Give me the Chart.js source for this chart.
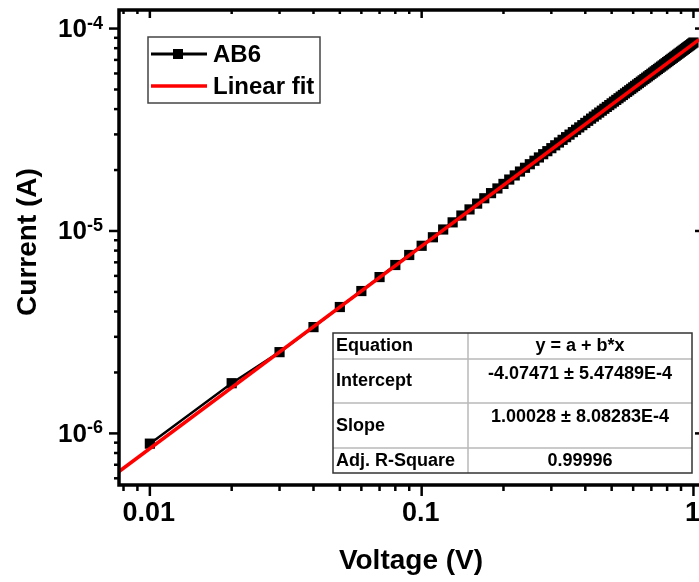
<!DOCTYPE html>
<html>
<head>
<meta charset="utf-8">
<script src="https://cdn.jsdelivr.net/npm/chart.js@4.4.1/dist/chart.umd.min.js"></script>
<style>
  html, body { margin: 0; padding: 0; background: #fff; }
  #chart { display: block; }
</style>
</head>
<body>
<canvas id="chart" width="699" height="582"></canvas>
<script>
// measured I-V of AB6 (V in volts, I in microamps)
const voltage = [
  0.01, 0.02, 0.03, 0.04, 0.05, 0.06, 0.07, 0.08, 0.09, 0.10,
  0.11, 0.12, 0.13, 0.14, 0.15, 0.16, 0.17, 0.18, 0.19, 0.20,
  0.21, 0.22, 0.23, 0.24, 0.25, 0.26, 0.27, 0.28, 0.29, 0.30,
  0.31, 0.32, 0.33, 0.34, 0.35, 0.36, 0.37, 0.38, 0.39, 0.40,
  0.41, 0.42, 0.43, 0.44, 0.45, 0.46, 0.47, 0.48, 0.49, 0.50,
  0.51, 0.52, 0.53, 0.54, 0.55, 0.56, 0.57, 0.58, 0.59, 0.60,
  0.61, 0.62, 0.63, 0.64, 0.65, 0.66, 0.67, 0.68, 0.69, 0.70,
  0.71, 0.72, 0.73, 0.74, 0.75, 0.76, 0.77, 0.78, 0.79, 0.80,
  0.81, 0.82, 0.83, 0.84, 0.85, 0.86, 0.87, 0.88, 0.89, 0.90,
  0.91, 0.92, 0.93, 0.94, 0.95, 0.96, 0.97, 0.98, 0.99, 1.00
];
const currentUA = [
  0.89, 1.77, 2.52, 3.35, 4.21, 5.05, 5.92, 6.79, 7.61, 8.45,
  9.31, 10.17, 11.03, 11.92, 12.78, 13.65, 14.51, 15.38, 16.22, 17.08,
  17.95, 18.81, 19.66, 20.52, 21.37, 22.23, 23.08, 23.95, 24.79, 25.65,
  26.5, 27.36, 28.2, 29.07, 29.92, 30.78, 31.62, 32.48, 33.33, 34.18,
  35.03, 35.9, 36.74, 37.6, 38.45, 39.3, 40.16, 41.0, 41.86, 42.71,
  43.56, 44.42, 45.26, 46.12, 46.97, 47.83, 48.67, 49.53, 50.38, 51.23,
  52.08, 52.94, 53.79, 54.64, 55.5, 56.35, 57.2, 58.05, 58.9, 59.76,
  60.6, 61.46, 62.31, 63.16, 64.02, 64.87, 65.72, 66.57, 67.42, 68.27,
  69.12, 69.98, 70.83, 71.68, 72.53, 73.39, 74.24, 75.09, 75.94, 76.8,
  77.64, 78.5, 79.35, 80.2, 81.05, 81.9, 82.76, 83.6, 84.46, 85.3
];

// linear fit line end points (log-log)
const fitVoltage = [0.0077, 1.048];
const fitCurrent = [6.48e-7, 8.82e-5];

// axis ticks
const xMajor = [0.01, 0.1, 1];
const xMajorLabels = ['0.01', '0.1', '1'];
const xMinor = [0.008, 0.009, 0.02, 0.03, 0.04, 0.05, 0.06, 0.07, 0.08, 0.09,
                0.2, 0.3, 0.4, 0.5, 0.6, 0.7, 0.8, 0.9];
const yMajor = [1e-6, 1e-5, 1e-4];
const yMajorExp = ['-6', '-5', '-4'];
const yMinor = [6e-7, 7e-7, 8e-7, 9e-7, 2e-6, 3e-6, 4e-6, 5e-6, 6e-6, 7e-6, 8e-6, 9e-6,
                2e-5, 3e-5, 4e-5, 5e-5, 6e-5, 7e-5, 8e-5, 9e-5];

// fit summary table
const tableRows = [
  ['Equation', 'y = a + b*x'],
  ['Intercept', '-4.07471 \u00B1 5.47489E-4'],
  ['Slope', '1.00028 \u00B1 8.08283E-4'],
  ['Adj. R-Square', '0.99996']
];

const FONT = '"Liberation Sans", Arial, sans-serif';

const frame = {
  id: 'frame',
  afterDatasetsDraw(c) {
    const ctx = c.ctx;
    const { left, right, top, bottom } = c.chartArea;
    const xs = c.scales.x, ys = c.scales.y;
    ctx.save();
    ctx.strokeStyle = '#000';
    ctx.fillStyle = '#000';

    // frame lines (right side is off the picture)
    ctx.lineWidth = 3.5;
    ctx.beginPath();
    ctx.moveTo(right + 2, top);
    ctx.lineTo(left, top);
    ctx.lineTo(left, bottom);
    ctx.lineTo(right + 2, bottom);
    ctx.stroke();

    ctx.lineWidth = 2.5;
    const tick = (x1, y1, x2, y2) => {
      ctx.beginPath(); ctx.moveTo(x1, y1); ctx.lineTo(x2, y2); ctx.stroke();
    };
    xMajor.forEach(v => {
      const x = xs.getPixelForValue(v);
      tick(x, bottom, x, bottom + 11);
      tick(x, top, x, top + 8);
    });
    xMinor.forEach(v => {
      const x = xs.getPixelForValue(v);
      tick(x, bottom, x, bottom + 6);
      tick(x, top, x, top + 4);
    });
    yMajor.forEach(v => {
      const y = ys.getPixelForValue(v);
      tick(left, y, left - 10, y);
      tick(right, y, right - 4, y);
    });
    yMinor.forEach(v => {
      const y = ys.getPixelForValue(v);
      tick(left, y, left - 5, y);
    });

    // tick labels
    ctx.font = 'bold 27px ' + FONT;
    ctx.textAlign = 'center';
    ctx.textBaseline = 'middle';
    xMajor.forEach((v, i) => {
      ctx.fillText(xMajorLabels[i], xs.getPixelForValue(v) - 1, bottom + 29);
    });
    yMajor.forEach((v, i) => {
      const y = ys.getPixelForValue(v);
      const endX = left - 16;
      ctx.font = 'bold 18px ' + FONT;
      const supW = ctx.measureText(yMajorExp[i]).width;
      ctx.textAlign = 'left';
      ctx.fillText(yMajorExp[i], endX - supW, y - 5);
      ctx.font = 'bold 26px ' + FONT;
      ctx.textAlign = 'right';
      ctx.fillText('10', endX - supW, y + 1);
    });

    // axis titles
    ctx.font = 'bold 28px ' + FONT;
    ctx.textAlign = 'center';
    ctx.fillText('Voltage (V)', 411, 561);
    ctx.save();
    ctx.translate(28, 242);
    ctx.rotate(-Math.PI / 2);
    ctx.fillText('Current (A)', 0, 0);
    ctx.restore();

    // legend
    ctx.lineWidth = 1.5;
    ctx.strokeStyle = '#444';
    ctx.fillStyle = '#fff';
    ctx.fillRect(148, 37, 172, 66);
    ctx.strokeRect(148, 37, 172, 66);
    ctx.strokeStyle = '#000';
    ctx.lineWidth = 3;
    tick(151, 54, 207, 54);
    ctx.fillStyle = '#000';
    ctx.fillRect(173, 49, 10, 10);
    ctx.strokeStyle = '#ff0000';
    ctx.lineWidth = 3.5;
    tick(151, 86, 207, 86);
    ctx.fillStyle = '#000';
    ctx.font = 'bold 24px ' + FONT;
    ctx.textAlign = 'left';
    ctx.fillText('AB6', 213, 55);
    ctx.fillText('Linear fit', 213, 87);

    // fit table
    const tx0 = 333, tx1 = 468, tx2 = 692;
    const rowY = [333, 359, 403, 448, 473];
    ctx.fillStyle = '#fff';
    ctx.fillRect(tx0, rowY[0], tx2 - tx0, rowY[4] - rowY[0]);
    ctx.strokeStyle = '#b8b8b8';
    ctx.lineWidth = 1.5;
    for (let r = 1; r < 4; r++) tick(tx0, rowY[r], tx2, rowY[r]);
    tick(tx1, rowY[0], tx1, rowY[4]);
    ctx.strokeStyle = '#333';
    ctx.lineWidth = 1.5;
    ctx.strokeRect(tx0, rowY[0], tx2 - tx0, rowY[4] - rowY[0]);
    ctx.fillStyle = '#000';
    ctx.font = 'bold 18px ' + FONT;
    const labelY = [346, 381, 426, 461];
    const valueY = [346, 374, 417, 461];
    tableRows.forEach((row, r) => {
      ctx.textAlign = 'left';
      ctx.fillText(row[0], tx0 + 3, labelY[r]);
      ctx.textAlign = 'center';
      ctx.fillText(row[1], (tx1 + tx2) / 2, valueY[r]);
    });
    ctx.restore();
  }
};

new Chart(document.getElementById('chart'), {
  type: 'scatter',
  data: {
    datasets: [
      {
        label: 'Linear fit',
        data: fitVoltage.map((v, i) => ({ x: v, y: fitCurrent[i] })),
        showLine: true,
        borderColor: '#ff0000',
        borderWidth: 3.5,
        pointRadius: 0,
        order: 0
      },
      {
        label: 'AB6',
        data: voltage.map((v, i) => ({ x: v, y: currentUA[i] * 1e-6 })),
        showLine: true,
        borderColor: '#000',
        backgroundColor: '#000',
        borderWidth: 2.5,
        pointStyle: 'rect',
        pointRadius: 7.2,
        pointBorderWidth: 0,
        order: 1
      }
    ]
  },
  options: {
    responsive: false,
    animation: false,
    devicePixelRatio: 1,
    layout: { autoPadding: false, padding: { left: 119, top: 10, right: 0, bottom: 97 } },
    plugins: { legend: { display: false }, tooltip: { enabled: false } },
    scales: {
      x: { type: 'logarithmic', display: false, min: 0.0077, max: 1.048 },
      y: { type: 'logarithmic', display: false, min: 5.56e-7, max: 1.235e-4 }
    }
  },
  plugins: [frame]
});
</script>
</body>
</html>
